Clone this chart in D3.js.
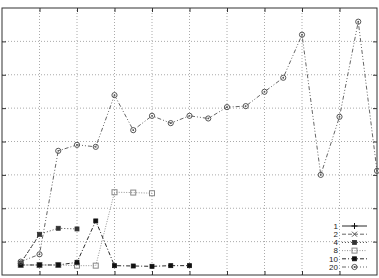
<!DOCTYPE html>
<html>
<head>
    <meta charset="utf-8">
    <title>Series chart</title>
    <script src="https://d3js.org/d3.v7.min.js"></script>
    <style>
        body { margin: 0; background: #fff; }
        svg { display: block; }
        .legend text { font-family: "Liberation Sans", Arial, sans-serif; font-size: 8px; fill: #222; }
    </style>
</head>
<body>
    <script>
        // chart values
        var labels = ["1", "2", "4", "8", "10", "20"];
        var s1 = [3.4];
        var s2 = [3.6, 12.1];
        var s4 = [3.6, 12.2, 14.0, 13.8];
        var s8 = [3.0, 3.0, 3.0, 2.8, 2.8, 24.8, 24.7, 24.5];
        var s10 = [3.0, 3.0, 3.0, 3.8, 16.2, 2.8, 2.7, 2.6, 2.8, 2.8];
        var s20 = [4.0, 6.2, 37.2, 39.0, 38.4, 53.9, 43.4, 47.7, 45.5, 47.7,
                   46.9, 50.3, 50.6, 54.9, 59.1, 72.0, 30.0, 47.4, 75.9, 31.2];
        var xTicks = [2, 4, 6, 8, 10, 12, 14, 16, 18];
        var yTicks = [10, 20, 30, 40, 50, 60, 70];

        var width = 379, height = 278;

        var x = d3.scaleLinear().domain([0, 20]).range([2, 377]);
        var y = d3.scaleLinear().domain([0, 80]).range([275, 8]);

        var svg = d3.select("body").append("svg")
            .attr("width", width)
            .attr("height", height);

        // grid
        svg.append("g").selectAll("line")
            .data(xTicks).enter().append("line")
            .attr("x1", d => x(d)).attr("x2", d => x(d))
            .attr("y1", y(0)).attr("y2", y(80))
            .attr("stroke", "#aaa").attr("stroke-dasharray", "1,2");
        svg.append("g").selectAll("line")
            .data(yTicks).enter().append("line")
            .attr("x1", x(0)).attr("x2", x(20))
            .attr("y1", d => y(d)).attr("y2", d => y(d))
            .attr("stroke", "#aaa").attr("stroke-dasharray", "1,2");

        // inward ticks on all four sides, no labels
        var tk = 4;
        svg.append("g").attr("transform", "translate(0," + y(0) + ")")
            .call(d3.axisTop(x).tickValues(xTicks).tickSize(tk).tickFormat(""));
        svg.append("g").attr("transform", "translate(0," + y(80) + ")")
            .call(d3.axisBottom(x).tickValues(xTicks).tickSize(tk).tickFormat(""));
        svg.append("g").attr("transform", "translate(" + x(0) + ",0)")
            .call(d3.axisRight(y).tickValues(yTicks).tickSize(tk).tickFormat(""));
        svg.append("g").attr("transform", "translate(" + x(20) + ",0)")
            .call(d3.axisLeft(y).tickValues(yTicks).tickSize(tk).tickFormat(""));
        svg.selectAll(".domain").remove();
        svg.selectAll(".tick line").attr("stroke", "#333");

        // frame
        svg.append("rect")
            .attr("x", x(0)).attr("y", y(80))
            .attr("width", x(20) - x(0)).attr("height", y(0) - y(80))
            .attr("fill", "none").attr("stroke", "#333");

        var series = [
            { name: labels[0], values: s1, color: "#111", dash: null, mark: "plus" },
            { name: labels[1], values: s2, color: "#555", dash: "4,2", mark: "cross" },
            { name: labels[2], values: s4, color: "#333", dash: "1,2", mark: "fsquare" },
            { name: labels[3], values: s8, color: "#888", dash: "1,1.5", mark: "osquare" },
            { name: labels[4], values: s10, color: "#111", dash: "4,2,1,2", mark: "fsquare" },
            { name: labels[5], values: s20, color: "#555", dash: "4,2,1,2,1,2", mark: "dcircle" }
        ];

        function drawMark(g, type, cx, cy, color) {
            if (type === "plus") {
                g.append("path").attr("d", "M" + (cx - 3) + "," + cy + "h6M" + cx + "," + (cy - 3) + "v6")
                    .attr("stroke", color).attr("fill", "none");
            } else if (type === "cross") {
                g.append("path").attr("d", "M" + (cx - 2.5) + "," + (cy - 2.5) + "l5,5M" + (cx - 2.5) + "," + (cy + 2.5) + "l5,-5")
                    .attr("stroke", color).attr("fill", "none");
            } else if (type === "fsquare") {
                g.append("rect").attr("x", cx - 2).attr("y", cy - 2).attr("width", 4).attr("height", 4)
                    .attr("fill", color).attr("stroke", color).attr("stroke-width", 0.8);
            } else if (type === "osquare") {
                g.append("rect").attr("x", cx - 2.5).attr("y", cy - 2.5).attr("width", 5).attr("height", 5)
                    .attr("fill", "none").attr("stroke", color);
            } else if (type === "dcircle") {
                g.append("circle").attr("cx", cx).attr("cy", cy).attr("r", 2.6)
                    .attr("fill", "none").attr("stroke", color);
                g.append("circle").attr("cx", cx).attr("cy", cy).attr("r", 0.9).attr("fill", color);
            }
        }

        var line = d3.line().x((d, i) => x(i + 1)).y(d => y(d));

        series.forEach(function(s) {
            var g = svg.append("g");
            g.append("path")
                .attr("d", line(s.values))
                .attr("fill", "none")
                .attr("stroke", s.color)
                .attr("stroke-width", 0.9)
                .attr("stroke-dasharray", s.dash);
            s.values.forEach(function(v, i) {
                drawMark(g, s.mark, x(i + 1), y(v), s.color);
            });
        });

        // legend
        var legend = svg.append("g").attr("class", "legend");
        series.forEach(function(s, i) {
            var ly = 226 + i * 8.2;
            legend.append("text")
                .attr("x", 338).attr("y", ly).attr("dy", "0.35em")
                .attr("text-anchor", "end").text(s.name);
            legend.append("line")
                .attr("x1", 342).attr("x2", 367).attr("y1", ly).attr("y2", ly)
                .attr("stroke", s.color).attr("stroke-width", 0.9)
                .attr("stroke-dasharray", s.dash);
            drawMark(legend, s.mark, 354.5, ly, s.color);
        });
    </script>
</body>
</html>
